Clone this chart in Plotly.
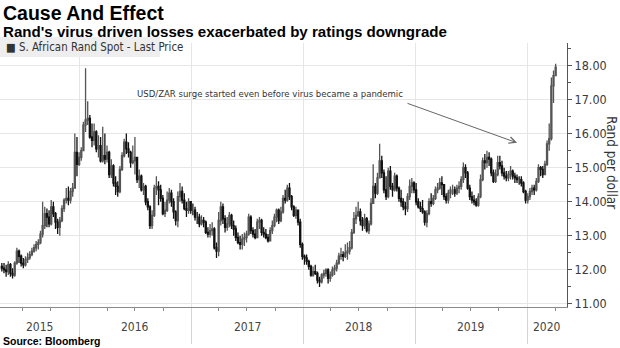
import plotly.graph_objects as go
import pandas as pd

# ---------------- data: weekly USD/ZAR bars (week ending Friday) ----------------
FIRST_WEEK_END = "2015-04-24"
FIRST_OPEN = 12.10

close = [
    12.05, 12.00, 11.95, 12.15, 11.90, 11.85, 12.20, 12.55, 12.40, 12.20, 12.15,
    12.30, 12.35, 12.45, 12.55, 12.65, 12.75, 12.80, 13.05, 13.30, 13.65,
    13.55, 13.35, 13.85, 13.65, 13.40, 13.25, 13.45, 13.80, 14.05, 14.10,
    14.05, 14.30, 14.40, 15.45, 15.10, 15.30, 15.50, 16.25, 16.40, 16.45,
    15.90, 15.80, 16.05, 15.55, 15.65, 15.20, 15.35, 15.25, 15.45, 14.80,
    15.05, 14.55, 14.45, 14.30, 14.95, 15.35, 15.75, 15.55, 15.45, 15.15,
    15.20, 15.30, 14.65, 14.75, 14.35, 14.45, 14.00, 13.85, 13.30, 13.60,
    14.40, 14.45, 14.35, 14.10, 13.65, 13.75, 14.05, 14.25, 14.00, 13.70,
    13.45, 14.15, 14.30, 14.05, 13.80, 13.75, 14.00, 13.75, 13.75,
    13.55, 13.55, 13.35, 13.45, 13.40, 13.10, 13.05, 13.15, 13.20, 12.65,
    12.55, 13.45, 13.85, 13.50, 13.25, 13.35, 13.60, 13.30, 13.20, 12.95,
    12.80, 12.75, 12.90, 12.95, 13.05, 13.55, 13.15, 13.05, 12.95, 13.40,
    13.45, 13.10, 13.05, 12.95, 12.85, 13.15, 13.30, 13.55, 13.75, 13.45,
    13.70, 14.10, 14.05, 14.40, 14.15, 13.85, 13.60, 13.75, 13.40, 12.75,
    12.40, 12.35, 12.25, 12.10, 11.85, 11.95, 11.90, 11.70, 11.65, 11.85,
    11.90, 12.00, 11.75, 11.85, 12.00, 12.05, 12.20, 12.40, 12.45, 12.40,
    12.50, 12.55, 12.65, 13.10, 13.50, 13.60, 13.70, 13.45, 13.30, 13.50,
    13.15, 13.35, 13.95, 14.45, 14.25, 14.70, 15.20, 14.85, 14.35, 14.15,
    14.90, 14.45, 14.35, 14.75, 14.40, 14.10, 14.00, 13.85, 13.80, 14.15,
    14.45, 14.55, 14.35, 14.00, 13.85, 13.80, 13.70, 13.40, 13.65, 14.00,
    13.95, 14.10, 14.35, 14.40, 14.55, 14.50, 14.15, 14.05, 14.25, 14.35,
    14.35, 14.25, 14.40, 14.45, 14.65, 15.00, 14.85, 14.40, 14.15, 14.05,
    14.00, 13.90, 14.15, 14.65, 15.20, 15.15, 15.30, 15.25, 14.85, 14.60,
    14.80, 15.15, 15.05, 14.85, 14.75, 14.70, 14.80, 14.90, 14.75, 14.70,
    14.65, 14.65, 14.55, 14.30, 14.05, 14.15, 14.30, 14.40, 14.35, 14.60,
    15.00, 14.95, 14.80, 15.10, 15.70, 15.85, 17.40, 17.70, 17.95,
]

high = [
    12.20, 12.20, 12.15, 12.25, 12.20, 12.05, 12.25, 12.65, 12.60, 12.45, 12.35,
    12.40, 12.50, 12.55, 12.65, 12.75, 12.85, 12.90, 13.15, 14.00, 13.85,
    13.80, 13.75, 14.05, 14.00, 13.70, 13.50, 13.55, 13.90, 14.10, 14.40,
    14.45, 14.40, 14.55, 16.00, 15.90, 15.45, 15.60, 16.35, 17.92, 16.95,
    16.55, 16.30, 16.30, 16.10, 15.95, 15.90, 16.20, 16.00, 15.65, 15.50,
    15.25, 15.10, 14.75, 14.60, 15.05, 15.45, 15.85, 16.00, 15.75, 15.50,
    15.65, 15.90, 15.20, 14.95, 14.80, 14.55, 14.50, 14.10, 13.90, 13.75,
    14.50, 14.75, 14.60, 14.50, 14.20, 14.00, 14.30, 14.40, 14.35, 14.10,
    13.75, 14.30, 14.55, 14.45, 14.25, 14.00, 14.10, 13.95, 13.95,
    13.85, 13.70, 13.65, 13.60, 13.55, 13.45, 13.25, 13.35, 13.40, 13.25,
    12.80, 13.70, 14.00, 13.95, 13.60, 13.55, 13.70, 13.65, 13.45, 13.30,
    13.10, 13.00, 13.05, 13.10, 13.15, 13.65, 13.60, 13.25, 13.20, 13.50,
    13.55, 13.50, 13.25, 13.20, 13.05, 13.25, 13.45, 13.65, 13.80, 13.80,
    13.85, 14.20, 14.35, 14.50, 14.55, 14.20, 13.90, 13.85, 13.75, 13.50,
    12.80, 12.45, 12.45, 12.30, 12.15, 12.10, 12.15, 11.95, 11.80, 11.90,
    12.00, 12.05, 12.05, 11.95, 12.10, 12.15, 12.30, 12.50, 12.65, 12.55,
    12.75, 12.80, 12.85, 13.20, 13.70, 13.85, 14.00, 13.80, 13.55, 13.65,
    13.55, 13.45, 14.10, 15.10, 14.55, 14.85, 15.70, 15.35, 14.95, 14.75,
    15.00, 15.05, 14.55, 14.85, 14.80, 14.45, 14.35, 14.10, 14.00, 14.25,
    14.65, 14.70, 14.60, 14.55, 14.10, 14.00, 14.05, 13.75, 13.75, 14.10,
    14.25, 14.20, 14.45, 14.55, 14.70, 14.75, 14.50, 14.25, 14.35, 14.45,
    14.50, 14.45, 14.50, 14.60, 14.75, 15.15, 15.10, 14.90, 14.50, 14.30,
    14.20, 14.10, 14.25, 14.80, 15.30, 15.40, 15.50, 15.45, 15.30, 14.95,
    14.95, 15.35, 15.35, 15.20, 15.00, 14.90, 14.90, 15.05, 14.95, 14.85,
    14.80, 14.75, 14.75, 14.60, 14.35, 14.25, 14.40, 14.50, 14.50, 14.70,
    15.10, 15.05, 15.05, 15.20, 15.80, 16.30, 17.65, 17.85, 18.05,
]

low = [
    11.95, 11.90, 11.80, 11.85, 11.80, 11.75, 11.80, 12.15, 12.20, 12.10, 12.05,
    12.10, 12.20, 12.30, 12.40, 12.50, 12.55, 12.60, 12.75, 12.95, 13.20,
    13.25, 13.25, 13.30, 13.55, 13.20, 13.05, 13.00, 13.40, 13.70, 13.95,
    13.90, 13.95, 14.15, 14.40, 14.75, 15.05, 15.20, 15.50, 16.05, 16.25,
    15.85, 15.60, 15.65, 15.45, 15.30, 15.15, 15.15, 15.10, 15.15, 14.70,
    14.70, 14.45, 14.20, 14.15, 14.25, 14.90, 15.30, 15.40, 15.30, 15.00,
    15.10, 14.80, 14.55, 14.40, 14.30, 14.20, 13.90, 13.75, 13.20, 13.20,
    13.55, 14.20, 13.90, 14.00, 13.60, 13.55, 13.70, 13.95, 13.85, 13.50,
    13.30, 13.25, 14.00, 13.95, 13.75, 13.55, 13.65, 13.65, 13.60,
    13.45, 13.35, 13.25, 13.30, 13.25, 13.05, 12.95, 12.95, 13.00, 12.60,
    12.35, 12.40, 13.30, 13.35, 13.10, 13.15, 13.25, 13.20, 13.00, 12.85,
    12.75, 12.60, 12.60, 12.70, 12.80, 13.00, 13.05, 12.95, 12.90, 12.95,
    13.20, 13.00, 12.95, 12.90, 12.80, 12.85, 13.05, 13.25, 13.40, 13.35,
    13.40, 13.65, 13.95, 14.00, 14.05, 13.75, 13.55, 13.50, 13.30, 12.65,
    12.30, 12.15, 12.15, 12.00, 11.80, 11.80, 11.85, 11.60, 11.50, 11.60,
    11.75, 11.80, 11.60, 11.65, 11.80, 11.85, 11.95, 12.15, 12.30, 12.25,
    12.35, 12.30, 12.45, 12.60, 13.05, 13.35, 13.55, 13.30, 13.15, 13.20,
    13.10, 13.05, 13.30, 14.00, 14.10, 14.20, 14.70, 14.70, 14.25, 14.05,
    14.10, 14.35, 14.15, 14.30, 14.30, 14.00, 13.85, 13.75, 13.60, 13.70,
    14.05, 14.25, 14.25, 13.90, 13.80, 13.70, 13.65, 13.30, 13.25, 13.60,
    13.85, 13.90, 14.05, 14.25, 14.35, 14.20, 14.05, 13.95, 13.95, 14.10,
    14.20, 14.15, 14.20, 14.25, 14.35, 14.55, 14.70, 14.35, 14.05, 13.95,
    13.90, 13.85, 13.85, 14.10, 14.60, 14.95, 15.00, 15.05, 14.75, 14.55,
    14.55, 14.75, 14.95, 14.75, 14.65, 14.60, 14.60, 14.65, 14.65, 14.55,
    14.55, 14.50, 14.45, 14.25, 13.95, 13.95, 14.05, 14.20, 14.20, 14.30,
    14.55, 14.75, 14.70, 14.80, 15.05, 15.50, 15.80, 16.90, 17.75,
]

YEARS = [2015, 2016, 2017, 2018, 2019, 2020]
SERIES_NAME = "S. African Rand Spot - Last Price"
TITLE = "Cause And Effect"
SUBTITLE = "Rand's virus driven losses exacerbated by ratings downgrade"
NOTE = "USD/ZAR surge started even before virus became a pandemic"
NOTE_TARGET = ("2019-11-29", 15.73)
Y_TITLE = "Rand per dollar"
SOURCE = "Source: Bloomberg"

# ---------------- derived ----------------
dates = pd.date_range(FIRST_WEEK_END, periods=len(close), freq="7D")
opens = [FIRST_OPEN] + close[:-1]
hi = [max(h, o, c) for h, o, c in zip(high, opens, close)]
lo = [min(l, o, c) for l, o, c in zip(low, opens, close)]

X_RANGE = [pd.Timestamp("2015-04-18"), pd.Timestamp("2020-05-10")]
Y_RANGE = [10.91, 18.66]

W, H = 620, 348
ML, MR, MT, MB = 0, 53, 43, 41
PW, PH = W - ML - MR, H - MT - MB


def px(X):
    return (X - ML) / PW


def py(Y):
    return (H - MB - Y) / PH


NARROW = "Liberation Sans Narrow, Arial Narrow, DejaVu Sans Condensed, Liberation Sans, sans-serif"
BOLD = "Liberation Sans, Arial, sans-serif"

fig = go.Figure()
fig.add_trace(go.Candlestick(
    x=dates, open=opens, high=hi, low=lo, close=close,
    name=SERIES_NAME,
    increasing=dict(line=dict(color="#555555", width=1.3), fillcolor="#949494"),
    decreasing=dict(line=dict(color="#111111", width=1.3), fillcolor="#111111"),
    whiskerwidth=0,
    showlegend=False,
    hoverinfo="skip",
))

annotations = [
    dict(text="<b>%s</b>" % TITLE, x=px(1), y=py(13), xref="paper", yref="paper",
         xanchor="left", yanchor="middle", showarrow=False,
         font=dict(family=BOLD, size=19.5, color="#000")),
    dict(text="<b>%s</b>" % SUBTITLE, x=px(1), y=py(31), xref="paper", yref="paper",
         xanchor="left", yanchor="middle", showarrow=False,
         font=dict(family=BOLD, size=15.1, color="#000")),
    dict(text="■ " + SERIES_NAME, x=px(4), y=py(47), xref="paper", yref="paper",
         xanchor="left", yanchor="middle", showarrow=False,
         font=dict(family=NARROW, size=11.4, color="#333")),
    dict(text=NOTE, x=px(135), y=py(93), xref="paper", yref="paper",
         xanchor="left", yanchor="middle", showarrow=False,
         font=dict(family=NARROW, size=9.5, color="#333")),
    dict(text="", x=pd.Timestamp(NOTE_TARGET[0]), y=NOTE_TARGET[1], xref="x", yref="y",
         showarrow=True, ax=-111, ay=-40, arrowhead=5, arrowsize=1.3,
         arrowwidth=1, arrowcolor="#666", standoff=0),
    dict(text=Y_TITLE, x=px(612), y=py(162), xref="paper", yref="paper",
         xanchor="center", yanchor="middle", textangle=90, showarrow=False,
         font=dict(family=NARROW, size=13.5, color="#333")),
    dict(text="<b>%s</b>" % SOURCE, x=px(1), y=py(341), xref="paper", yref="paper",
         xanchor="left", yanchor="middle", showarrow=False,
         font=dict(family=BOLD, size=10.5, color="#000")),
]

for yr in YEARS:
    a = max(pd.Timestamp(f"{yr}-01-01"), X_RANGE[0])
    b = min(pd.Timestamp(f"{yr + 1}-01-01"), X_RANGE[1])
    mid = a + (b - a) / 2
    annotations.append(dict(text=str(yr), x=mid, y=py(327), xref="x", yref="paper",
                            xanchor="center", yanchor="middle", showarrow=False,
                            font=dict(family=NARROW, size=12, color="#444")))

fig.update_layout(
    width=W, height=H,
    margin=dict(l=ML, r=MR, t=MT, b=MB, pad=0),
    paper_bgcolor="white", plot_bgcolor="white",
    showlegend=False,
    annotations=annotations,
    shapes=[dict(type="rect", xref="paper", yref="paper",
                 x0=px(0), x1=px(160), y0=py(57), y1=py(37),
                 fillcolor="#eeeeee", line=dict(width=0), layer="above")],
    xaxis=dict(
        type="date", range=X_RANGE, rangeslider=dict(visible=False),
        showgrid=True, gridcolor="#e6e6e6", gridwidth=1,
        tick0="2015-01-01", dtick="M12",
        ticks="outside", ticklen=36, tickcolor="#d4d4d4", tickwidth=1,
        showticklabels=False,
        showline=True, linecolor="#8a8a8a", linewidth=1,
        zeroline=False,
        minor=dict(dtick="M3", ticks="outside", ticklen=3, tickcolor="#8a8a8a",
                   tickwidth=1, showgrid=False),
    ),
    yaxis=dict(
        side="right", range=Y_RANGE,
        tick0=11, dtick=1, tickformat=".2f",
        showgrid=True, gridcolor="#e6e6e6", gridwidth=1,
        ticks="outside", ticklen=4, tickcolor="#555", tickwidth=1,
        showline=True, linecolor="#555", linewidth=1,
        zeroline=False,
        tickfont=dict(family=NARROW, size=12.5, color="#3a3a3a"),
        minor=dict(dtick=0.5, ticks="outside", ticklen=3, tickcolor="#555",
                   showgrid=False),
    ),
)

fig.write_html("out.html")
